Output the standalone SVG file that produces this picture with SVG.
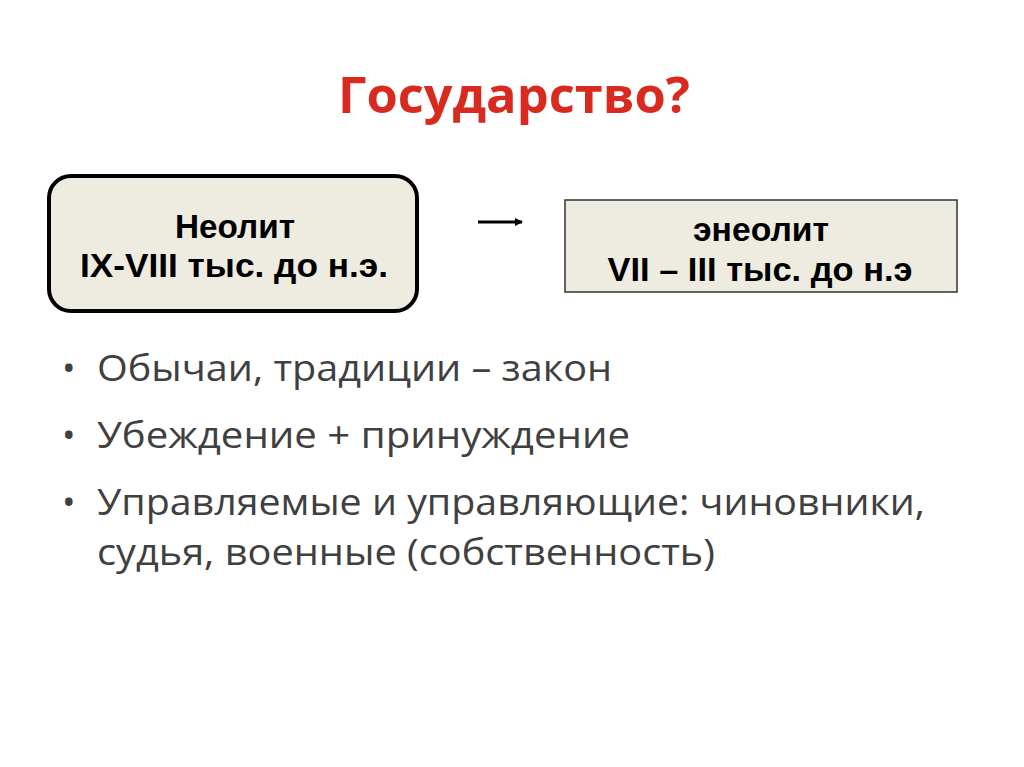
<svg xmlns="http://www.w3.org/2000/svg" width="1024" height="767" viewBox="0 0 1024 767">
<style>
.b{font-family:"Liberation Sans",Arial,sans-serif;font-weight:bold;font-size:33px;fill:#000;text-anchor:middle}
.t{font-family:"Open Sans","Noto Sans",sans-serif;font-size:36px;fill:#404040}
</style>
<defs><marker id="ah" markerWidth="8" markerHeight="8" refX="7" refY="4" orient="auto" markerUnits="userSpaceOnUse"><path d="M0,0 L8,4 L0,8 z" fill="#000"/></marker></defs>
<rect width="1024" height="767" fill="#fff"/>
<text x="514" y="113" font-family="'Open Sans','Noto Sans',sans-serif" font-weight="bold" font-size="50" fill="#d92a1f" text-anchor="middle" textLength="352" lengthAdjust="spacingAndGlyphs">Государство?</text>
<g id="n1">
<rect x="49" y="176" width="368" height="135" rx="22" fill="#eeece1" stroke="#000" stroke-width="4"/>
<text class="b" x="235" y="238" textLength="120" lengthAdjust="spacingAndGlyphs">Неолит</text>
<text class="b" x="234" y="277" textLength="308" lengthAdjust="spacingAndGlyphs">IX-VIII тыс. до н.э.</text>
</g>
<g id="n2">
<rect x="565" y="200" width="392" height="92" fill="#eeece1" stroke="#333" stroke-width="1.5"/>
<text class="b" x="761" y="241" textLength="136" lengthAdjust="spacingAndGlyphs">энеолит</text>
<text class="b" x="760" y="281" textLength="305" lengthAdjust="spacingAndGlyphs">VII – III тыс. до н.э</text>
</g>
<g id="connectors">
<line x1="478" y1="222" x2="522" y2="222" stroke="#000" stroke-width="3" marker-end="url(#ah)"/>
</g>
<g id="bullets">
<text class="t" x="62" y="381">•</text><text class="t" x="97" y="381" textLength="515" lengthAdjust="spacingAndGlyphs">Обычаи, традиции – закон</text>
<text class="t" x="62" y="448">•</text><text class="t" x="97" y="448" textLength="533" lengthAdjust="spacingAndGlyphs">Убеждение + принуждение</text>
<text class="t" x="62" y="515">•</text><text class="t" x="97" y="515" textLength="828" lengthAdjust="spacingAndGlyphs">Управляемые и управляющие: чиновники,</text>
<text class="t" x="97" y="565" textLength="618" lengthAdjust="spacingAndGlyphs">судья, военные (собственность)</text>
</g>
</svg>
